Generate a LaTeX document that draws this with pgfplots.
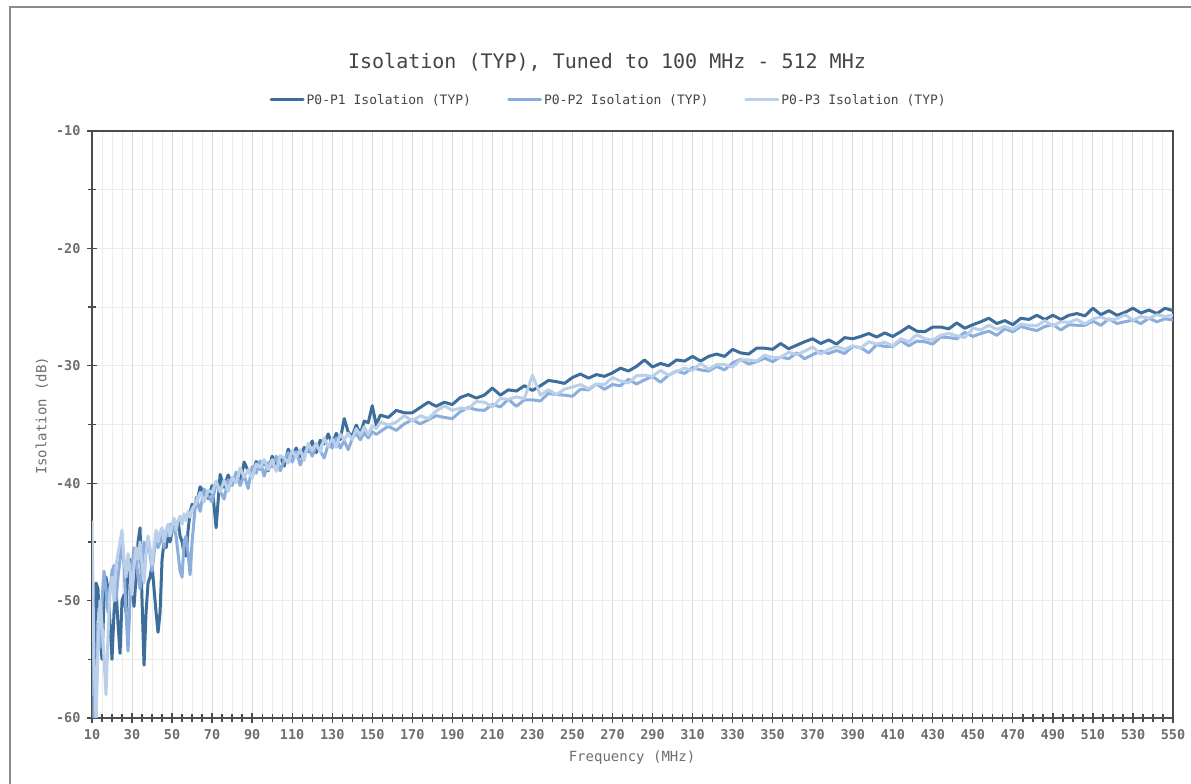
\documentclass[border=0pt]{standalone}
\usepackage{fontspec}
\setmainfont{DejaVu Sans Mono}
\usepackage{pgfplots}
\pgfplotsset{compat=1.18}
\usepackage{pgfplotstable}
\definecolor{cA}{HTML}{3D6D9A}
\definecolor{cB}{HTML}{8CAEDC}
\definecolor{cC}{HTML}{BACFEA}
\definecolor{txt}{HTML}{444444}
\definecolor{tick}{HTML}{6E6E6E}

\pgfplotstableread{
x y
10 -50
11 -57
12 -48.5
13 -49
14 -53
15 -55
16 -50
17 -48
18 -49
19 -52
20 -55
21 -51
22 -49
23 -52
24 -54.5
25 -50
26 -49.5
27 -51
28 -47
29 -46.5
30 -49
31 -50.5
32 -48
33 -45
34 -43.8
35 -50
36 -55.5
37 -51
38 -48.5
39 -48
40 -47
41 -49
42 -51
43 -52.7
44 -51
45 -46.5
46 -45
47 -45.5
48 -44.5
49 -45
50 -44
51 -43.5
52 -44
53 -43.2
54 -44.5
55 -45
56 -46
57 -46.2
58 -44
59 -42.5
60 -41.8
62 -42.0
64 -40.3
66 -40.8
68 -41.3
70 -40.2
72 -43.8
74 -39.25
76 -40.35
78 -39.3
80 -40.1
82 -39.25
84 -40.0
86 -38.2
88 -38.95
90 -39.4
92 -38.15
94 -38.8
96 -38.1
98 -38.95
100 -37.7
102 -38.4
104 -37.75
106 -38.55
108 -37.1
110 -37.7
112 -37.0
114 -37.75
116 -36.95
118 -37.3
120 -36.4
122 -37.4
124 -36.35
126 -36.65
128 -35.8
130 -36.7
132 -35.75
134 -36.3
136 -34.5
138 -35.65
140 -36.0
142 -35.05
144 -35.8
146 -34.7
148 -34.85
150 -33.4
152 -35.05
154 -34.2
158 -34.4
162 -33.8
166 -34.0
170 -34.0
174 -33.55
178 -33.1
182 -33.45
186 -33.1
190 -33.3
194 -32.7
198 -32.45
202 -32.75
206 -32.5
210 -31.9
214 -32.5
218 -32.05
222 -32.15
226 -31.7
230 -32.1
234 -31.7
238 -31.25
242 -31.35
246 -31.5
250 -31.0
254 -30.7
258 -31.05
262 -30.75
266 -30.9
270 -30.6
274 -30.2
278 -30.45
282 -30.05
286 -29.5
290 -30.1
294 -29.8
298 -30.0
302 -29.5
306 -29.6
310 -29.2
314 -29.6
318 -29.2
322 -29.0
326 -29.2
330 -28.6
334 -28.9
338 -29.0
342 -28.5
346 -28.5
350 -28.6
354 -28.1
358 -28.55
362 -28.25
366 -27.95
370 -27.7
374 -28.1
378 -27.8
382 -28.15
386 -27.6
390 -27.7
394 -27.5
398 -27.25
402 -27.55
406 -27.2
410 -27.5
414 -27.1
418 -26.65
422 -27.05
426 -27.1
430 -26.7
434 -26.7
438 -26.85
442 -26.35
446 -26.8
450 -26.5
454 -26.25
458 -25.95
462 -26.4
466 -26.15
470 -26.5
474 -25.95
478 -26.05
482 -25.7
486 -26.05
490 -25.7
494 -26.05
498 -25.7
502 -25.55
506 -25.75
510 -25.1
514 -25.65
518 -25.3
522 -25.7
526 -25.45
530 -25.1
534 -25.5
538 -25.25
542 -25.55
546 -25.1
550 -25.3
}\tabA

\pgfplotstableread{
x y
10 -45
11 -60
12 -60
13 -52
14 -54
15 -50
16 -47.5
17 -49
18 -51
19 -49
20 -47.5
21 -47
22 -50
23 -48
24 -46.5
25 -45
26 -47
27 -51
28 -54.3
29 -50
30 -47
31 -45.5
32 -46.5
33 -48
34 -49
35 -47
36 -45
37 -46
38 -44.8
39 -46
40 -47.5
41 -46
42 -44.5
43 -45.5
44 -45
45 -44.2
46 -45.5
47 -44
48 -44.5
49 -43.5
50 -44.2
51 -43.8
52 -44.5
53 -46
54 -47.5
55 -48
56 -45
57 -44.5
58 -46
59 -47.8
60 -45
62 -41.2
64 -42.4
66 -40.5
68 -41.1
70 -41.6
72 -40.0
74 -40.65
76 -41.35
78 -39.7
80 -40.2
82 -39.05
84 -40.2
86 -39.3
88 -40.45
90 -38.6
92 -39.15
94 -38.1
96 -39.4
98 -38.25
100 -38.6
102 -37.7
104 -38.95
106 -38.05
108 -37.4
110 -38.2
112 -37.3
114 -38.45
116 -37.55
118 -36.9
120 -37.7
122 -36.8
124 -37.25
126 -37.85
128 -36.7
130 -37.0
132 -36.15
134 -37.0
136 -36.4
138 -37.15
140 -36.2
142 -35.75
144 -36.3
146 -35.7
148 -36.15
150 -35.6
152 -35.85
154 -35.6
158 -35.15
162 -35.5
166 -34.95
170 -34.6
174 -34.95
178 -34.6
182 -34.25
186 -34.4
190 -34.5
194 -33.9
198 -33.55
202 -33.75
206 -33.8
210 -33.3
214 -33.5
218 -32.85
222 -33.45
226 -32.9
230 -32.9
234 -33.0
238 -32.35
242 -32.45
246 -32.5
250 -32.6
254 -32.0
258 -32.05
262 -31.55
266 -32.0
270 -31.6
274 -31.7
278 -31.15
282 -31.55
286 -31.2
290 -30.9
294 -31.4
298 -30.8
302 -30.45
306 -30.65
310 -30.15
314 -30.35
318 -30.45
322 -30.05
326 -30.35
330 -29.75
334 -29.45
338 -29.85
342 -29.65
346 -29.35
350 -29.65
354 -29.25
358 -29.4
362 -28.9
366 -29.4
370 -29.05
374 -28.75
378 -28.95
382 -28.7
386 -28.95
390 -28.35
394 -28.45
398 -28.9
402 -28.2
406 -28.35
410 -28.35
414 -27.85
418 -28.3
422 -27.9
426 -27.95
430 -28.15
434 -27.55
438 -27.6
442 -27.7
446 -27.15
450 -27.5
454 -27.25
458 -27.05
462 -27.4
466 -26.85
470 -27.1
474 -26.65
478 -26.85
482 -27.0
486 -26.65
490 -26.5
494 -26.95
498 -26.5
502 -26.55
506 -26.55
510 -26.2
514 -26.55
518 -26.0
522 -26.4
526 -26.25
530 -26.1
534 -26.4
538 -25.95
542 -26.25
546 -26.0
550 -26.1
}\tabB

\pgfplotstableread{
x y
10 -43.3
11 -55
12 -60
13 -54
14 -50
15 -52
16 -55
17 -58
18 -53
19 -49
20 -48
21 -50
22 -47
23 -46
24 -45
25 -44
26 -46.5
27 -48
28 -46
29 -47.5
30 -49.5
31 -47
32 -45.5
33 -46.5
34 -45
35 -47
36 -48.5
37 -46
38 -44.5
39 -45.5
40 -47
41 -45.5
42 -44
43 -45
44 -44.2
45 -43.8
46 -45
47 -44
48 -43.5
49 -44.5
50 -43.5
51 -43
52 -44
53 -43.2
54 -42.8
55 -43.5
56 -42.6
57 -43.2
58 -42.4
59 -42.9
60 -42.2
62 -41.7
64 -40.8
66 -41.6
68 -40.6
70 -40.8
72 -39.8
74 -40.75
76 -39.75
78 -40.7
80 -39.5
82 -39.95
84 -38.7
86 -39.5
88 -38.85
90 -39.6
92 -38.35
94 -38.7
96 -38.0
98 -38.85
100 -38.0
102 -39.0
104 -37.65
106 -37.85
108 -38.3
110 -37.2
112 -37.8
114 -37.15
116 -38.05
118 -36.6
120 -37.2
122 -36.6
124 -37.35
126 -36.15
128 -36.9
130 -36.2
132 -36.95
134 -35.8
136 -36.3
138 -35.75
140 -36.3
142 -35.35
144 -35.9
146 -35.2
148 -35.85
150 -35.1
152 -35.35
154 -34.8
158 -35.05
162 -34.8
166 -34.25
170 -34.7
174 -34.25
178 -34.5
182 -33.85
186 -33.4
190 -33.8
194 -33.6
198 -33.65
202 -33.05
206 -33.1
210 -33.5
214 -32.8
218 -32.85
222 -32.65
226 -32.8
230 -30.8
234 -32.5
238 -32.05
242 -32.45
246 -32.0
250 -31.8
254 -31.6
258 -31.95
262 -31.55
266 -31.6
270 -31.0
274 -31.3
278 -31.45
282 -30.85
286 -30.8
290 -30.9
294 -30.4
298 -30.8
302 -30.5
306 -30.2
310 -30.4
314 -29.8
318 -30.3
322 -29.9
326 -29.9
330 -30.1
334 -29.5
338 -29.5
342 -29.6
346 -29.1
350 -29.3
354 -29.3
358 -28.85
362 -29.05
366 -28.75
370 -28.4
374 -29.0
378 -28.6
382 -28.35
386 -28.6
390 -28.3
394 -28.5
398 -27.95
402 -28.15
406 -28.0
410 -28.3
414 -27.7
418 -27.95
422 -27.35
426 -27.7
430 -27.8
434 -27.4
438 -27.25
442 -27.45
446 -27.6
450 -26.8
454 -26.95
458 -26.55
462 -26.9
466 -26.65
470 -26.9
474 -26.45
478 -26.55
482 -26.6
486 -26.15
490 -26.6
494 -26.25
498 -26.3
502 -26.05
506 -26.45
510 -26.0
514 -25.85
518 -26.1
522 -26.0
526 -25.65
530 -26.1
534 -25.8
538 -25.95
542 -25.65
546 -25.8
550 -25.7
}\tabC

\begin{document}
\begin{tikzpicture}
\useasboundingbox (0,0) rectangle (1191pt,784pt);
\draw[color=black!45, line width=2.2pt] (10pt,0) -- (10pt,777pt) -- (1191pt,777pt);
\node[text=txt, font=\fontsize{20}{24}\selectfont] at (607pt,722pt) {Isolation (TYP), Tuned to 100 MHz - 512 MHz};
\node[text=tick, font=\fontsize{14}{16}\selectfont] at (632pt,26pt) {Frequency (MHz)};
\node[text=tick, font=\fontsize{14}{16}\selectfont, rotate=90] at (42pt,368pt) {Isolation (dB)};
\begin{axis}[
  at={(92pt,66pt)}, anchor=south west,
  scale only axis, width=1081pt, height=587pt,
  xmin=10, xmax=550, ymin=-60, ymax=-10,
  xtick={10,30,...,550},
  ytick={-60,-50,...,-10},
  minor x tick num=3,
  minor y tick num=1,
  xtick pos=bottom, ytick pos=left,
  tick align=center,
  major tick length=10pt, minor tick length=8pt,
  every tick/.style={draw=black!70, line width=1.3pt},
  grid=both,
  major x grid style={draw=black!15, line width=1pt},
  minor x grid style={draw=black!7, line width=1pt},
  major y grid style={draw=black!8, line width=1pt},
  minor y grid style={draw=black!8, line width=1pt},
  axis line style={draw=black!70, line width=1.5pt},
  /pgf/number format/assume math mode=true,
  ticklabel style={text=tick, font=\fontsize{13.5}{16}\selectfont\bfseries},
  xticklabel style={yshift=-3pt},
  yticklabel style={xshift=-3pt},
  legend columns=3,
  legend style={at={(axis description cs:0.478,1.053)}, anchor=center, draw=none, fill=none,
    font=\fontsize{13}{16}\selectfont, text=txt,
    /tikz/every even column/.append style={column sep=34pt}},
  legend image code/.code={\draw[#1, line width=3pt] (0pt,0pt) -- (32pt,0pt);},
  every axis plot/.append style={line width=3pt, line join=round, line cap=round},
]
\addplot[cA] table[x=x,y=y] {\tabA};
\addlegendentry{P0-P1 Isolation (TYP)}
\addplot[cB] table[x=x,y=y] {\tabB};
\addlegendentry{P0-P2 Isolation (TYP)}
\addplot[cC] table[x=x,y=y] {\tabC};
\addlegendentry{P0-P3 Isolation (TYP)}
\end{axis}
\end{tikzpicture}
\end{document}
